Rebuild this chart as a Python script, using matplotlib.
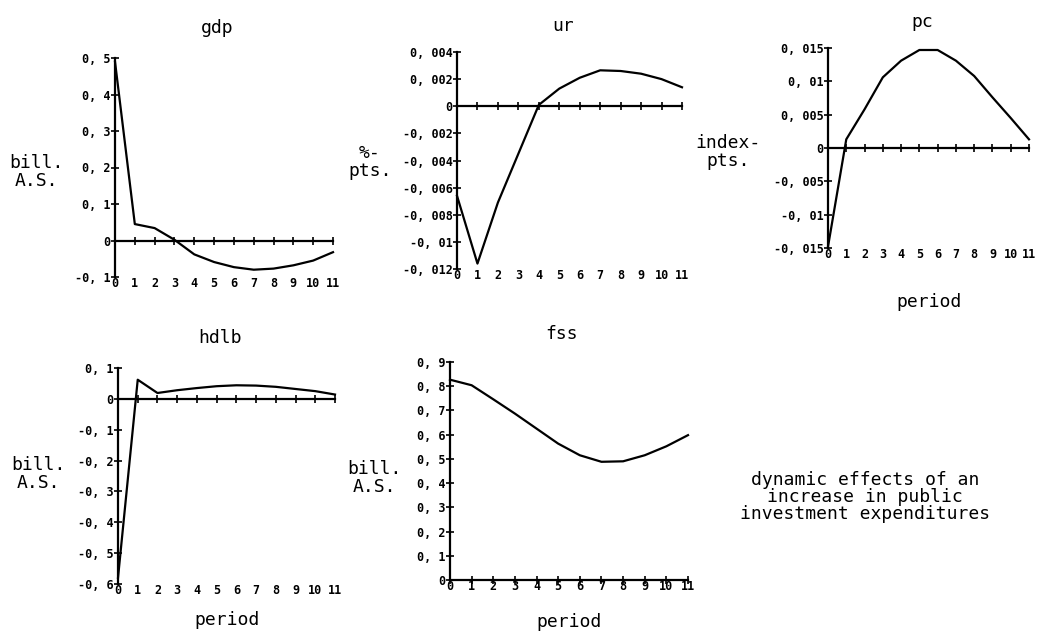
import matplotlib
matplotlib.use("Agg")
import matplotlib.pyplot as plt
import matplotlib.transforms as mtransforms
from matplotlib.ticker import FuncFormatter

periods = list(range(12))
period_labels = [str(p) for p in periods]

gdp = [0.49, 0.045, 0.034, 0.002, -0.038, -0.059, -0.073, -0.080, -0.077, -0.068, -0.055, -0.032]
ur = [-0.0066, -0.0116, -0.0071, -0.0035, 0.0001, 0.0013, 0.0021, 0.00265, 0.0026, 0.0024, 0.002, 0.0014]
pc = [-0.0148, 0.0013, 0.0058, 0.0106, 0.0131, 0.0147, 0.0147, 0.0131, 0.0108, 0.0076, 0.0045, 0.0013]
hdlb = [-0.58, 0.062, 0.019, 0.028, 0.035, 0.041, 0.044, 0.043, 0.039, 0.032, 0.025, 0.014]
fss = [0.827, 0.804, 0.746, 0.687, 0.625, 0.563, 0.515, 0.488, 0.490, 0.515, 0.552, 0.598]

gdp_ticks = [-0.1, 0, 0.1, 0.2, 0.3, 0.4, 0.5]
ur_ticks = [-0.012, -0.01, -0.008, -0.006, -0.004, -0.002, 0, 0.002, 0.004]
pc_ticks = [-0.015, -0.01, -0.005, 0, 0.005, 0.01, 0.015]
hdlb_ticks = [-0.6, -0.5, -0.4, -0.3, -0.2, -0.1, 0, 0.1]
fss_ticks = [0, 0.1, 0.2, 0.3, 0.4, 0.5, 0.6, 0.7, 0.8, 0.9]

MONO = "DejaVu Sans Mono"
W, H = 1045, 635

fig = plt.figure(figsize=(W / 100, H / 100), dpi=100)
fig.patch.set_facecolor("white")


def comma_fmt(v, pos=None):
    if abs(v) < 1e-12:
        return "0"
    s = f"{v:.3f}".rstrip("0").rstrip(".")
    return s.replace(".", ", ").replace("-", "-")


def panel(px_left, px_right, px_top, px_bottom, values, ticks, title, ylabel,
          ylabel_xy, title_y, xlabel_y=None):
    ax = fig.add_axes([px_left / W, 1 - px_bottom / H,
                       (px_right - px_left) / W, (px_bottom - px_top) / H])
    ax.set_facecolor("none")
    ax.plot(periods, values, color="black", lw=1.6, clip_on=False)
    ax.set_xlim(0, 11)
    ax.set_ylim(ticks[0], ticks[-1])
    for side in ("top", "right"):
        ax.spines[side].set_visible(False)
    ax.spines["left"].set_linewidth(1.6)
    ax.spines["bottom"].set_linewidth(1.6)
    ax.spines["bottom"].set_position(("data", 0))
    ax.set_xticks(periods)
    ax.set_yticks(ticks)
    ax.yaxis.set_major_formatter(FuncFormatter(comma_fmt))
    ax.tick_params(axis="both", direction="inout", length=6, width=1.2)
    ax.tick_params(axis="x", labelbottom=False)
    ax.tick_params(axis="y", pad=0, labelsize=8.5)
    for lab in ax.get_yticklabels():
        lab.set_fontfamily(MONO)
        lab.set_fontweight("bold")
    # period numbers sit under the lower end of the value axis
    trans = mtransforms.blended_transform_factory(ax.transData, ax.transAxes)
    for p, lab in zip(periods, period_labels):
        ax.text(p, 0, lab, transform=trans, ha="center", va="top",
                fontsize=8.5, fontweight="bold", family=MONO,
                transform_rotates_text=False)
    cx = (px_left + px_right) / 2
    fig.text((px_left + (px_right - px_left) * 0.47) / W, 1 - title_y / H, title,
             ha="center", va="center", fontsize=13, family=MONO)
    fig.text(ylabel_xy[0] / W, 1 - ylabel_xy[1] / H, ylabel, ha="center",
             va="center", fontsize=13, family=MONO, linespacing=0.95)
    if xlabel_y is not None:
        fig.text(cx / W, 1 - xlabel_y / H, "period", ha="center", va="center",
                 fontsize=13, family=MONO)
    return ax


panel(115, 333, 58, 277, gdp, gdp_ticks, "gdp", "bill.\nA.S.", (36, 172), 28)
panel(457, 682, 52, 269, ur, ur_ticks, "ur", "%-\npts.", (370, 162), 26)
panel(828, 1029, 48, 248, pc, pc_ticks, "pc", "index-\npts.", (728, 152), 22, 302)
panel(118, 335, 368, 584, hdlb, hdlb_ticks, "hdlb", "bill.\nA.S.", (38, 474), 338, 620)
panel(450, 688, 362, 580, fss, fss_ticks, "fss", "bill.\nA.S.", (374, 478), 334, 622)

fig.text(865 / W, 1 - 497 / H,
         "dynamic effects of an\nincrease in public\ninvestment expenditures",
         ha="center", va="center", fontsize=13, family=MONO, linespacing=0.95)

fig.savefig("out.png", dpi=100, facecolor="white")
